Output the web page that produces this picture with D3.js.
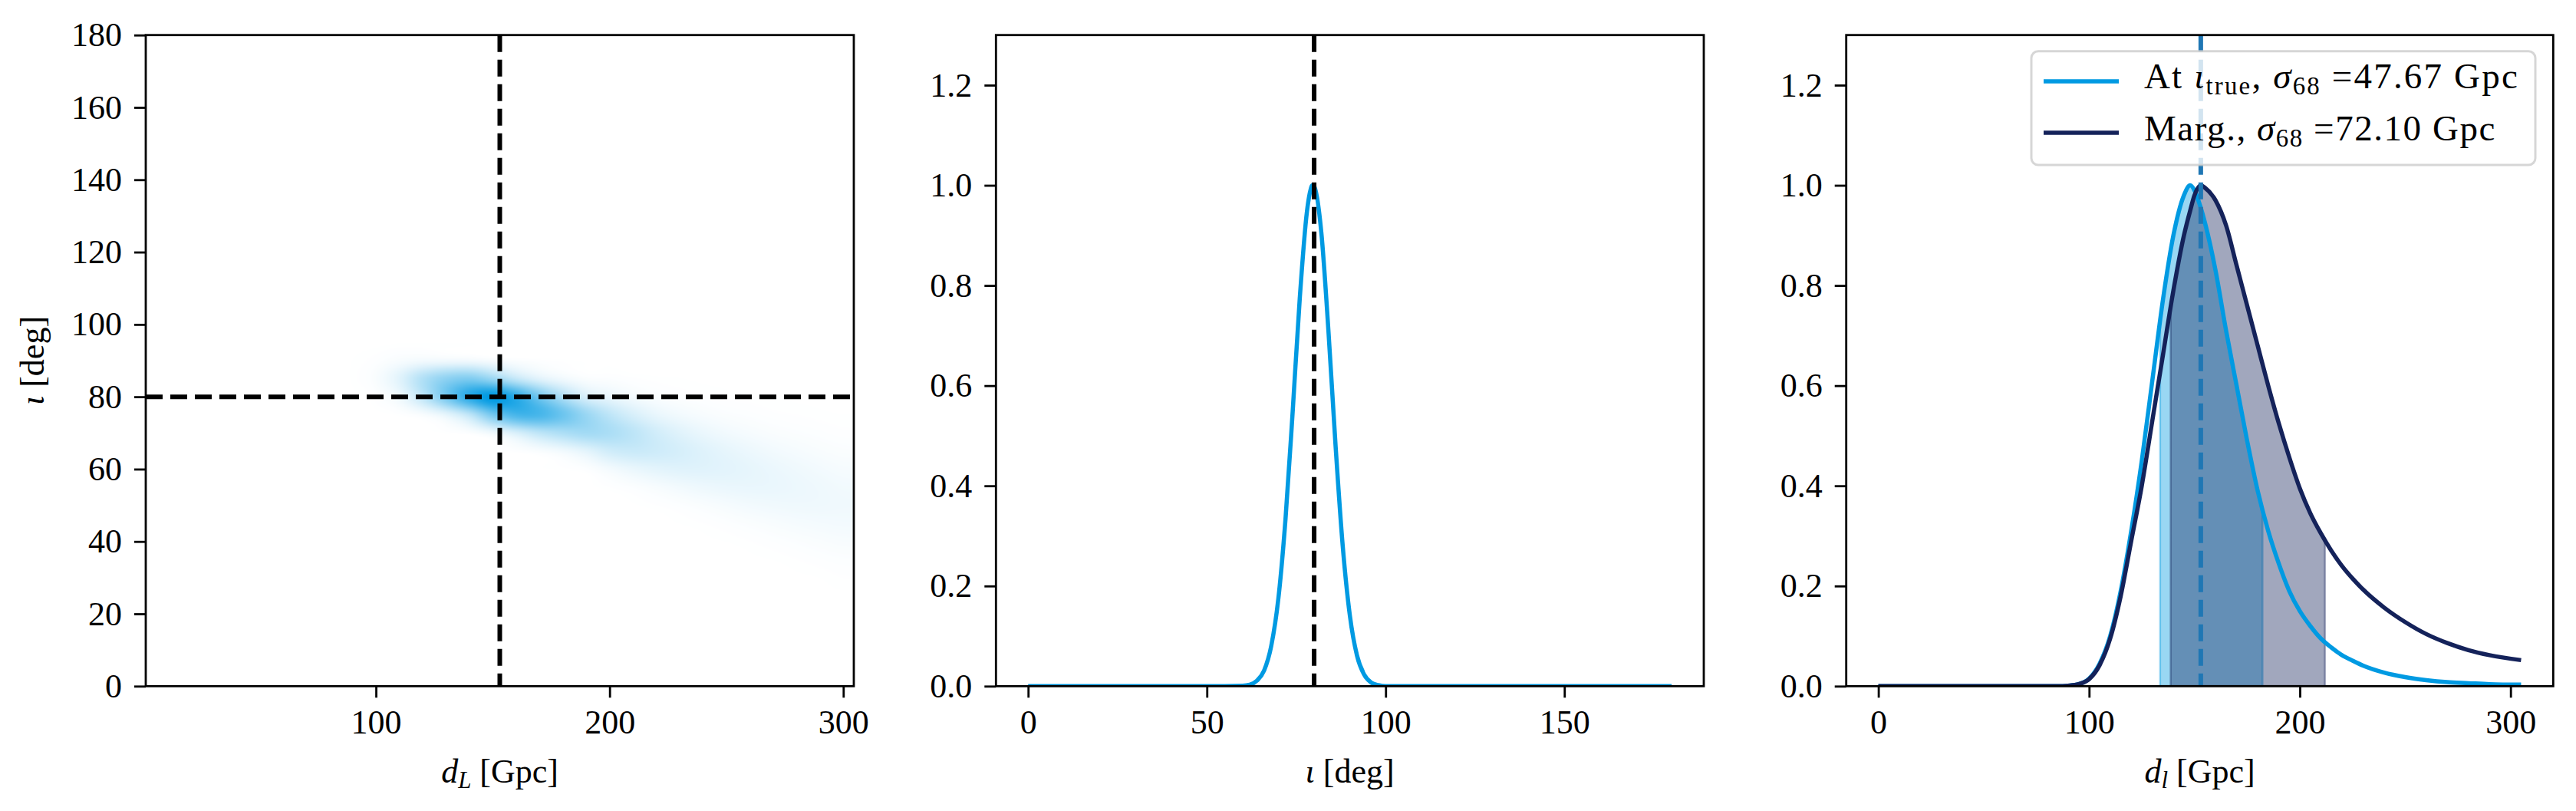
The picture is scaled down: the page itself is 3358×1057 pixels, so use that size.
<!DOCTYPE html>
<html><head><meta charset="utf-8">
<script src="https://cdn.jsdelivr.net/npm/d3@7"></script>
<style>
body{margin:0;background:#fff}
svg text{font-family:"Liberation Serif","Times New Roman",serif;white-space:pre;}
</style>
</head><body>
<svg id="chart" width="3358" height="1057"></svg>
<script>
// ---------------- DATA ----------------
// Panel 1: 2D posterior grid (rows = iota, cols = d_L)
const heatD = [80,90,100,110,120,130,140,150,160,170,180,190,200,210,220,230,240,250,260,270,280,290,300];
const heatIota = [20,25,30,35,40,45,50,55,60,65,70,75,80,85,90,95,100];
const heatValues = [
  [0,0,0,0,0,0,0,0,0,0,0,0,0,0,0,0,0,0,0,0,0,0,0],
  [0,0,0,0,0,0,0,0,0,0,0,0,0,0,0,0,0,0,0,0,0,0.001,0.001],
  [0,0,0,0,0,0,0,0,0,0,0,0,0,0,0,0,0,0,0,0,0.001,0.002,0.005],
  [0,0,0,0,0,0,0,0,0,0,0,0,0,0,0,0,0,0,0.001,0.002,0.005,0.009,0.013],
  [0,0,0,0,0,0,0,0,0,0,0,0,0,0,0,0,0.001,0.002,0.005,0.010,0.016,0.023,0.029],
  [0,0,0,0,0,0,0,0,0,0,0,0,0,0,0,0.002,0.005,0.011,0.019,0.028,0.037,0.043,0.047],
  [0,0,0,0,0,0,0,0,0,0,0,0,0,0.001,0.005,0.012,0.023,0.036,0.049,0.057,0.061,0.061,0.057],
  [0,0,0,0,0,0,0,0,0,0,0,0,0.005,0.015,0.031,0.051,0.068,0.079,0.083,0.080,0.072,0.062,0.052],
  [0,0,0,0,0,0,0,0,0,0.001,0.003,0.011,0.045,0.080,0.106,0.120,0.119,0.109,0.094,0.077,0.061,0.047,0.036],
  [0,0,0,0,0,0,0,0.001,0.008,0.025,0.054,0.107,0.182,0.206,0.190,0.160,0.125,0.095,0.071,0.051,0.037,0.026,0.019],
  [0,0,0,0,0,0.002,0.013,0.060,0.150,0.252,0.316,0.354,0.325,0.256,0.178,0.120,0.079,0.052,0.035,0.023,0.016,0.011,0.007],
  [0,0,0,0.004,0.026,0.094,0.247,0.531,0.713,0.708,0.570,0.394,0.253,0.154,0.087,0.051,0.030,0.018,0.012,0.007,0.005,0.003,0.002],
  [0,0,0.009,0.062,0.243,0.531,0.831,0.992,0.821,0.547,0.316,0.149,0.086,0.044,0.022,0.012,0.007,0.004,0.003,0.002,0.001,0.001,0],
  [0,0.003,0.025,0.115,0.297,0.438,0.494,0.389,0.229,0.116,0.054,0.019,0.013,0.006,0.003,0.002,0.001,0.001,0,0,0,0,0],
  [0,0.002,0.009,0.028,0.047,0.052,0.052,0.032,0.016,0.007,0.003,0.001,0.001,0,0,0,0,0,0,0,0,0,0],
  [0,0,0,0.001,0.001,0.001,0.001,0,0,0,0,0,0,0,0,0,0,0,0,0,0,0,0],
  [0,0,0,0,0,0,0,0,0,0,0,0,0,0,0,0,0,0,0,0,0,0,0]
];
const trueDL = 153;
const trueIota = 80;

// Panel 2: likelihood vs iota
const iotaX = [0,10,20,30,40,50,60,62,64,66,68,70,72,74,76,78,79,79.5,80,82,84,86,88,90,92,94,96,98,100,110,120,130,140,150,160,170,180];
const iotaY = [0,0,0,0,0,0,0.001,0.003,0.011,0.031,0.080,0.175,0.334,0.548,0.776,0.948,0.991,1.0,0.998,0.907,0.710,0.480,0.280,0.141,0.061,0.023,0.007,0.002,0,0,0,0,0,0,0,0,0];

// Panel 3: distance posteriors
const dlX    = [0,20,40,60,80,85,90,95,100,105,110,115,120,125,130,135,140,145,148,150,153,155,160,165,170,175,180,185,190,195,200,205,210,215,220,225,230,240,250,260,270,280,290,305];
const atTrueY = [0,0,0,0,0,0,0.001,0.004,0.015,0.045,0.10,0.19,0.31,0.45,0.61,0.77,0.90,0.98,1.0,0.99,0.955,0.925,0.83,0.71,0.60,0.49,0.39,0.31,0.245,0.19,0.15,0.12,0.095,0.077,0.062,0.051,0.041,0.027,0.018,0.012,0.008,0.006,0.004,0.003];
const margY   = [0,0,0,0,0,0,0.001,0.004,0.014,0.042,0.095,0.18,0.29,0.40,0.53,0.66,0.79,0.90,0.95,0.98,1.0,0.995,0.97,0.92,0.84,0.76,0.68,0.60,0.525,0.457,0.395,0.345,0.305,0.27,0.24,0.215,0.193,0.157,0.128,0.104,0.086,0.072,0.062,0.052];
const atTrueInterval = [133.7, 182.3];
const margInterval = [138.7, 211.9];
const sigma68 = ["47.67", "72.10"];

// ticks
const p1XTicks = [100,200,300];
const p1YTicks = [0,20,40,60,80,100,120,140,160,180];
const p2XTicks = [0,50,100,150];
const p3XTicks = [0,100,200,300];
const probTicks = [0,0.2,0.4,0.6,0.8,1.0,1.2];

// ---------------- STYLE / LAYOUT ----------------
const LIGHT = "#009ae2", DARK = "#14225a", TRUEC = "#1f77b4";
const FS = 44;
const TOP = 45.7, BOT = 894.3;
const P = [{l:190, r:1113}, {l:1298.3, r:2221}, {l:2406.7, r:3328.3}];
const svg = d3.select("#chart");
const defs = svg.append("defs");

const x1 = d3.scaleLinear().domain([1.5, 304.5]).range([P[0].l, P[0].r]);
const y1 = d3.scaleLinear().domain([0, 180]).range([BOT, TOP]);
const x2 = d3.scaleLinear().domain([-9, 189]).range([P[1].l, P[1].r]);
const y2 = d3.scaleLinear().domain([0, 1.3]).range([BOT, TOP]);
const x3 = d3.scaleLinear().domain([-15.25, 320.25]).range([P[2].l, P[2].r]);
const y3 = y2.copy();

P.forEach((p, i) => {
  defs.append("clipPath").attr("id", "clip" + i)
    .append("rect").attr("x", p.l).attr("y", TOP).attr("width", p.r - p.l).attr("height", BOT - TOP);
});

function axes(x, y, xt, yt, xf, yf) {
  const gx = svg.append("g").attr("transform", `translate(0,${BOT})`)
    .call(d3.axisBottom(x).tickValues(xt).tickFormat(xf).tickSize(15).tickPadding(15).tickSizeOuter(0));
  const gy = svg.append("g").attr("transform", `translate(${x.range()[0]},0)`)
    .call(d3.axisLeft(y).tickValues(yt).tickFormat(yf).tickSize(15).tickPadding(16).tickSizeOuter(0));
  [gx, gy].forEach(g => {
    g.attr("font-size", null).attr("font-family", null);
    g.select(".domain").remove();
    g.selectAll(".tick line").attr("stroke", "#000").attr("stroke-width", 2.8);
    g.selectAll(".tick text").attr("font-size", FS).attr("fill", "#000");
  });
}
function spine(p) {
  svg.append("rect").attr("x", p.l).attr("y", TOP).attr("width", p.r - p.l).attr("height", BOT - TOP)
    .attr("fill", "none").attr("stroke", "#000").attr("stroke-width", 2.8);
}
function rich(g, parts, size) {
  const t = g.append("text").attr("font-size", size).attr("fill", "#000");
  const sh = size * 0.17;
  let shifted = false;
  parts.forEach(p => {
    const s = t.append("tspan").text(p.t);
    if (p.it) s.attr("font-style", "italic");
    if (p.sub) { s.attr("font-size", size * 0.7); if (!shifted) { s.attr("dy", sh); shifted = true; } }
    else if (shifted) { s.attr("dy", -sh); shifted = false; }
  });
  return t;
}

// ---------------- PANEL 1 ----------------
(function () {
  const p = P[0];
  const W = Math.round(p.r - p.l), H = Math.round(BOT - TOP);
  const cv = document.createElement("canvas"); cv.width = W; cv.height = H;
  const ctx = cv.getContext("2d");
  const img = ctx.createImageData(W, H);
  const nC = heatD.length, nR = heatIota.length;
  const vmax = d3.max(heatValues.flat());
  const cr = (a, b, c, d, t) => b + 0.5 * t * (c - a + t * (2 * a - 5 * b + 4 * c - d + t * (3 * (b - c) + d - a)));
  const G = (r, c) => heatValues[Math.max(0, Math.min(nR - 1, r))][Math.max(0, Math.min(nC - 1, c))];
  const col = d3.color(LIGHT);
  const dStep = heatD[1] - heatD[0], iStep = heatIota[1] - heatIota[0];
  for (let j = 0; j < H; j++) {
    const io = y1.invert(TOP + j + 0.5);
    const fy = (io - heatIota[0]) / iStep;
    const iy = Math.floor(fy), ty = fy - iy;
    for (let i = 0; i < W; i++) {
      const d = x1.invert(p.l + i + 0.5);
      const fx = (d - heatD[0]) / dStep;
      const ix = Math.floor(fx), tx = fx - ix;
      const rows = [];
      for (let k = -1; k <= 2; k++) rows.push(cr(G(iy + k, ix - 1), G(iy + k, ix), G(iy + k, ix + 1), G(iy + k, ix + 2), tx));
      let v = cr(rows[0], rows[1], rows[2], rows[3], ty) / vmax;
      v = Math.max(0, Math.min(1, v));
      const o = (j * W + i) * 4;
      img.data[o] = 255 + (col.r - 255) * v;
      img.data[o + 1] = 255 + (col.g - 255) * v;
      img.data[o + 2] = 255 + (col.b - 255) * v;
      img.data[o + 3] = 255;
    }
  }
  ctx.putImageData(img, 0, 0);
  svg.append("image").attr("x", p.l).attr("y", TOP).attr("width", W).attr("height", H)
    .attr("preserveAspectRatio", "none").attr("href", cv.toDataURL());
  const g = svg.append("g").attr("clip-path", "url(#clip0)");
  g.append("line").attr("x1", p.l).attr("x2", p.r).attr("y1", y1(trueIota)).attr("y2", y1(trueIota))
    .attr("stroke", "#000").attr("stroke-width", 6).attr("stroke-dasharray", "22,10");
  g.append("line").attr("x1", x1(trueDL)).attr("x2", x1(trueDL)).attr("y1", TOP).attr("y2", BOT)
    .attr("stroke", "#000").attr("stroke-width", 6).attr("stroke-dasharray", "22,10");
  axes(x1, y1, p1XTicks, p1YTicks, d3.format("d"), d3.format("d"));
  spine(p);
  rich(svg.append("g").attr("transform", `translate(${(p.l + p.r) / 2},1020)`),
    [{t:"d", it:true}, {t:"L", it:true, sub:true}, {t:" [Gpc]"}], FS).attr("text-anchor", "middle");
  rich(svg.append("g").attr("transform", `translate(57,${(TOP + BOT) / 2}) rotate(-90)`),
    [{t:"ι", it:true}, {t:" [deg]"}], FS).attr("text-anchor", "middle");
})();

// ---------------- PANEL 2 ----------------
(function () {
  const p = P[1];
  const g = svg.append("g").attr("clip-path", "url(#clip1)");
  const data = iotaX.map((x, i) => [x, iotaY[i]]);
  g.append("path").datum(data).attr("fill", "none").attr("stroke", LIGHT).attr("stroke-width", 5.5)
    .attr("d", d3.line().x(d => x2(d[0])).y(d => y2(d[1])).curve(d3.curveMonotoneX));
  g.append("line").attr("x1", x2(trueIota)).attr("x2", x2(trueIota)).attr("y1", TOP).attr("y2", BOT)
    .attr("stroke", "#000").attr("stroke-width", 6).attr("stroke-dasharray", "22,10");
  axes(x2, y2, p2XTicks, probTicks, d3.format("d"), d3.format(".1f"));
  spine(p);
  rich(svg.append("g").attr("transform", `translate(${(p.l + p.r) / 2},1020)`),
    [{t:"ι", it:true}, {t:" [deg]"}], FS).attr("text-anchor", "middle");
})();

// ---------------- PANEL 3 ----------------
(function () {
  const p = P[2];
  const g = svg.append("g").attr("clip-path", "url(#clip2)");
  const series = [
    {y: atTrueY, c: LIGHT, iv: atTrueInterval},
    {y: margY, c: DARK, iv: margInterval}
  ];
  const line = d3.line().x(d => x3(d[0])).y(d => y3(d[1])).curve(d3.curveMonotoneX);
  const area = d3.area().x(d => x3(d[0])).y0(y3(0)).y1(d => y3(d[1])).curve(d3.curveMonotoneX);
  series.forEach(s => {
    const f = d3.scaleLinear().domain(dlX).range(s.y);
    const [lo, hi] = s.iv;
    const pts = [[lo, f(lo)]].concat(dlX.map((x, i) => [x, s.y[i]]).filter(d => d[0] > lo && d[0] < hi)).concat([[hi, f(hi)]]);
    g.append("path").datum(pts).attr("d", area).attr("fill", s.c).attr("fill-opacity", 0.4)
      .attr("stroke", s.c).attr("stroke-opacity", 0.4).attr("stroke-width", 2.5);
  });
  series.forEach(s => {
    g.append("path").datum(dlX.map((x, i) => [x, s.y[i]])).attr("d", line)
      .attr("fill", "none").attr("stroke", s.c).attr("stroke-width", 5.5);
  });
  g.append("line").attr("x1", x3(trueDL)).attr("x2", x3(trueDL)).attr("y1", TOP).attr("y2", BOT)
    .attr("stroke", TRUEC).attr("stroke-width", 6).attr("stroke-dasharray", "22,10");
  axes(x3, y3, p3XTicks, probTicks, d3.format("d"), d3.format(".1f"));
  spine(p);
  rich(svg.append("g").attr("transform", `translate(${(p.l + p.r) / 2},1020)`),
    [{t:"d", it:true}, {t:"l", it:true, sub:true}, {t:" [Gpc]"}], FS).attr("text-anchor", "middle");

  // legend
  const lg = svg.append("g");
  lg.append("rect").attr("x", 2648).attr("y", 66.7).attr("width", 657).attr("height", 148.3)
    .attr("rx", 9).attr("fill", "#fff").attr("fill-opacity", 0.8)
    .attr("stroke", "#cccccc").attr("stroke-opacity", 0.8).attr("stroke-width", 3);
  const rows = [
    {c: LIGHT, y: 106, base: 115, w: 489, parts: [{t:"At "}, {t:"ι", it:true}, {t:"true", sub:true}, {t:", "}, {t:"σ", it:true}, {t:"68", sub:true}, {t:" =" + sigma68[0] + " Gpc"}]},
    {c: DARK, y: 173, base: 182.7, w: 459, parts: [{t:"Marg., "}, {t:"σ", it:true}, {t:"68", sub:true}, {t:" =" + sigma68[1] + " Gpc"}]}
  ];
  rows.forEach(r => {
    lg.append("line").attr("x1", 2664).attr("x2", 2762).attr("y1", r.y).attr("y2", r.y)
      .attr("stroke", r.c).attr("stroke-width", 5.5);
    const t = rich(lg.append("g").attr("transform", `translate(2795,${r.base})`), r.parts, 47);
    const len = t.node().getComputedTextLength();
    const n = r.parts.reduce((a, q) => a + q.t.length, 0);
    if (len < r.w) t.attr("letter-spacing", ((r.w - len) / n).toFixed(2));
  });
})();
</script>
</body></html>
